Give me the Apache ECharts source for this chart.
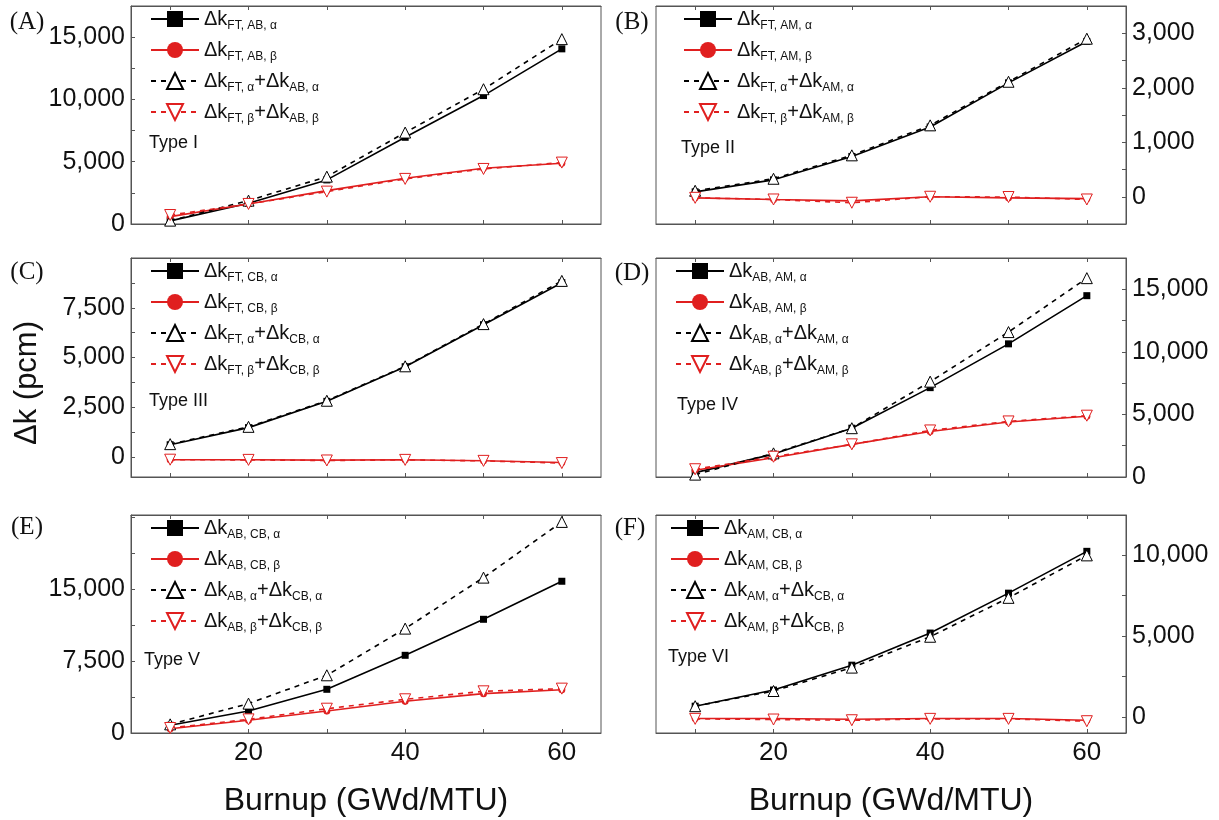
<!DOCTYPE html>
<html><head><meta charset="utf-8">
<script src="https://cdn.jsdelivr.net/npm/echarts@6/dist/echarts.min.js"></script>
<style>html,body{margin:0;padding:0;background:#fff}#c{width:1219px;height:820px}</style>
</head><body><div id="c"></div>
<script>
// ---------------- DATA ----------------
const burnup = [10, 20, 30, 40, 50, 60];

// (A) Type I
const A_alpha    = [250, 1660, 3540, 6960, 10310, 14060];
const A_beta     = [590, 1610, 2680, 3670, 4470, 4880];
const A_sumAlpha = [270, 1875, 3800, 7340, 10820, 14840];
const A_sumBeta  = [720, 1610, 2600, 3620, 4420, 4930];
// (B) Type II
const B_alpha    = [90, 310, 740, 1280, 2090, 2850];
const B_beta     = [-20, -50, -75, 0, -20, -35];
const B_sumAlpha = [110, 330, 760, 1310, 2110, 2900];
const B_sumBeta  = [-20, -50, -110, 0, -5, -50];
// (C) Type III
const C_alpha    = [620, 1480, 2800, 4540, 6650, 8760];
const C_beta     = [-135, -135, -150, -135, -185, -270];
const C_sumAlpha = [650, 1520, 2830, 4560, 6680, 8850];
const C_sumBeta  = [-130, -140, -170, -140, -190, -300];
// (D) Type IV
const D_alpha    = [350, 1830, 3900, 7140, 10640, 14490];
const D_beta     = [540, 1540, 2610, 3640, 4390, 4850];
const D_sumAlpha = [190, 1890, 3900, 7620, 11580, 15890];
const D_sumBeta  = [620, 1620, 2610, 3720, 4440, 4900];
// (E) Type V
const E_alpha    = [800, 2290, 4550, 8090, 11840, 15800];
const E_beta     = [450, 1320, 2290, 3300, 4100, 4510];
const E_sumAlpha = [900, 3060, 6010, 10870, 16180, 21980];
const E_sumBeta  = [520, 1420, 2530, 3510, 4340, 4620];
// (F) Type VI
const F_alpha    = [660, 1660, 3200, 5190, 7660, 10250];
const F_beta     = [-100, -100, -145, -100, -100, -210];
const F_sumAlpha = [660, 1600, 3050, 4960, 7370, 10000];
const F_sumBeta  = [-125, -165, -210, -125, -125, -270];

// tick labels
const xLabels = [20, 40, 60];
const xTicks = [10, 20, 30, 40, 50, 60];
const A_yLabels = [0, 5000, 10000, 15000];
const A_yTicks = [0, 2500, 5000, 7500, 10000, 12500, 15000];
const B_yLabels = [0, 1000, 2000, 3000];
const B_yTicks = [0, 500, 1000, 1500, 2000, 2500, 3000];
const C_yLabels = [0, 2500, 5000, 7500];
const C_yTicks = [0, 1250, 2500, 3750, 5000, 6250, 7500, 8750];
const D_yLabels = [0, 5000, 10000, 15000];
const D_yTicks = [0, 2500, 5000, 7500, 10000, 12500, 15000];
const E_yLabels = [0, 7500, 15000];
const E_yTicks = [0, 3750, 7500, 11250, 15000, 18750, 22500];
const F_yLabels = [0, 5000, 10000];
const F_yTicks = [0, 2500, 5000, 7500, 10000];

// legend texts [main, sub, main, sub]
const A_legend = [['Δk','FT, AB, α'], ['Δk','FT, AB, β'], ['Δk','FT, α','+Δk','AB, α'], ['Δk','FT, β','+Δk','AB, β']];
const B_legend = [['Δk','FT, AM, α'], ['Δk','FT, AM, β'], ['Δk','FT, α','+Δk','AM, α'], ['Δk','FT, β','+Δk','AM, β']];
const C_legend = [['Δk','FT, CB, α'], ['Δk','FT, CB, β'], ['Δk','FT, α','+Δk','CB, α'], ['Δk','FT, β','+Δk','CB, β']];
const D_legend = [['Δk','AB, AM, α'], ['Δk','AB, AM, β'], ['Δk','AB, α','+Δk','AM, α'], ['Δk','AB, β','+Δk','AM, β']];
const E_legend = [['Δk','AB, CB, α'], ['Δk','AB, CB, β'], ['Δk','AB, α','+Δk','CB, α'], ['Δk','AB, β','+Δk','CB, β']];
const F_legend = [['Δk','AM, CB, α'], ['Δk','AM, CB, β'], ['Δk','AM, α','+Δk','CB, α'], ['Δk','AM, β','+Δk','CB, β']];

const panelLetters = ['(A)', '(B)', '(C)', '(D)', '(E)', '(F)'];
const typeNames = ['Type I', 'Type II', 'Type III', 'Type IV', 'Type V', 'Type VI'];
const xTitle = 'Burnup (GWd/MTU)';
const yTitle = 'Δk (pcm)';

// ---------------- LAYOUT / STYLE ----------------
const FONT = 'Liberation Sans, Arial, sans-serif';
const RED = '#e01f1f';
const AXC = '#555';
const panels = [
  {data:[A_alpha,A_beta,A_sumAlpha,A_sumBeta], leg:A_legend, yl:A_yLabels, yt:A_yTicks, min:0, max:17500, left:131, top:6, h:218, side:'left', legLeft:150, typeX:149, typeY:143, letX:27, letY:22},
  {data:[B_alpha,B_beta,B_sumAlpha,B_sumBeta], leg:B_legend, yl:B_yLabels, yt:B_yTicks, min:-500, max:3500, left:656, top:6, h:218, side:'right', legLeft:683, typeX:681, typeY:148, letX:632, letY:22},
  {data:[C_alpha,C_beta,C_sumAlpha,C_sumBeta], leg:C_legend, yl:C_yLabels, yt:C_yTicks, min:-1000, max:10000, left:131, top:258, h:219, side:'left', legLeft:150, typeX:149, typeY:401, letX:27, letY:272},
  {data:[D_alpha,D_beta,D_sumAlpha,D_sumBeta], leg:D_legend, yl:D_yLabels, yt:D_yTicks, min:0, max:17500, left:656, top:258, h:219, side:'right', legLeft:675, typeX:677, typeY:405, letX:632, letY:273},
  {data:[E_alpha,E_beta,E_sumAlpha,E_sumBeta], leg:E_legend, yl:E_yLabels, yt:E_yTicks, min:0, max:22700, left:131, top:515, h:218, side:'left', legLeft:150, typeX:144, typeY:660, letX:27, letY:527},
  {data:[F_alpha,F_beta,F_sumAlpha,F_sumBeta], leg:F_legend, yl:F_yLabels, yt:F_yTicks, min:-1000, max:12500, left:656, top:515, h:218, side:'right', legLeft:670, typeX:668, typeY:657, letX:630, letY:528}
];
const W = 470;

const seriesStyles = [
  {symbol:'rect', symbolSize:7, symbolRotate:0, itemStyle:{color:'#000'}, lineStyle:{color:'#000', width:1.6}},
  {symbol:'circle', symbolSize:7, symbolRotate:0, itemStyle:{color:RED}, lineStyle:{color:RED, width:1.6}},
  {symbol:'triangle', symbolSize:11, symbolRotate:0, itemStyle:{color:'#fff', borderColor:'#000', borderWidth:1}, lineStyle:{color:'#000', width:1.6, type:[5,5]}},
  {symbol:'triangle', symbolSize:11, symbolRotate:180, itemStyle:{color:'#fff', borderColor:RED, borderWidth:1}, lineStyle:{color:RED, width:1.6, type:[5,5]}}
];

const fmt = v => Number(v).toLocaleString('en-US');
const grid = [], xAxis = [], yAxis = [], series = [], legend = [], graphic = [];
const legendText = {};

panels.forEach((p, i) => {
  const L = 'ABCDEF'[i];
  grid.push({left:p.left, top:p.top, width:W, height:p.h, show:true, borderColor:AXC, borderWidth:1, backgroundColor:'transparent'});
  const bottomRow = i >= 4;
  xAxis.push({
    type:'value', gridIndex:i, min:5, max:65, position:'bottom',
    splitLine:{show:false},
    axisLine:{show:true, onZero:false, lineStyle:{color:AXC}},
    axisTick:{show:true, inside:true, length:4, customValues:xTicks, lineStyle:{color:AXC}},
    axisLabel:{show:bottomRow, customValues:xLabels, fontSize:26, fontFamily:FONT, color:'#111', margin:7},
    name: bottomRow ? xTitle : '', nameLocation:'middle', nameGap:52,
    nameTextStyle:{fontSize:32, fontFamily:FONT, color:'#111'}
  });
  xAxis.push({
    type:'value', gridIndex:i, min:5, max:65, position:'top',
    splitLine:{show:false},
    axisLine:{show:true, onZero:false, lineStyle:{color:AXC}},
    axisTick:{show:true, inside:true, length:4, customValues:xTicks, lineStyle:{color:AXC}},
    axisLabel:{show:false}
  });
  yAxis.push({
    type:'value', gridIndex:i, min:p.min, max:p.max, position:p.side,
    splitLine:{show:false},
    axisLine:{show:true, onZero:false, lineStyle:{color:AXC}},
    axisTick:{show:true, inside:true, length:4, customValues:p.yt, lineStyle:{color:AXC}},
    axisLabel:{customValues:p.yl, formatter:fmt, fontSize:25, fontFamily:FONT, color:'#111', margin:6}
  });
  const names = [];
  p.data.forEach((arr, k) => {
    const nm = L + k;
    names.push(nm);
    const parts = p.leg[k];
    let s = '';
    for (let j = 0; j < parts.length; j++) s += (j % 2 === 0 ? '{m|' : '{s|') + parts[j] + '}';
    legendText[nm] = s;
    const st = seriesStyles[k];
    series.push({
      type:'line', name:nm, xAxisIndex:2*i, yAxisIndex:i,
      data: burnup.map((x, n) => [x, arr[n]]),
      symbol:st.symbol, symbolSize:st.symbolSize, symbolRotate:st.symbolRotate,
      showAllSymbol:true, itemStyle:st.itemStyle, lineStyle:st.lineStyle,
      z: 2 + k, animation:false, silent:true
    });
  });
  legend.push({
    data:names, orient:'vertical', left:p.legLeft, top:p.top + 3, padding:0,
    itemWidth:48, itemHeight:20, itemGap:8, selectedMode:false,
    formatter: nm => legendText[nm],
    textStyle:{fontFamily:FONT, color:'#111', rich:{
      m:{fontSize:20, lineHeight:26, fontFamily:FONT, color:'#111'},
      s:{fontSize:12, lineHeight:12, verticalAlign:'bottom', fontFamily:FONT, color:'#111'}
    }}
  });
  graphic.push({type:'text', x:p.typeX, y:p.typeY, style:{text:typeNames[i], font:'18px ' + FONT, fill:'#111', textVerticalAlign:'middle'}});
  graphic.push({type:'text', x:p.letX, y:p.letY, style:{text:panelLetters[i], font:'25px Liberation Serif, Times New Roman, serif', fill:'#111', textAlign:'center', textVerticalAlign:'middle'}});
});
graphic.push({type:'text', x:27, y:383, rotation:Math.PI/2, style:{text:yTitle, font:'31px ' + FONT, fill:'#111', textAlign:'center', textVerticalAlign:'middle'}});

const chart = echarts.init(document.getElementById('c'), null, {renderer:'canvas'});
chart.setOption({animation:false, backgroundColor:'#fff', grid, xAxis, yAxis, series, legend, graphic});
</script>
</body></html>
